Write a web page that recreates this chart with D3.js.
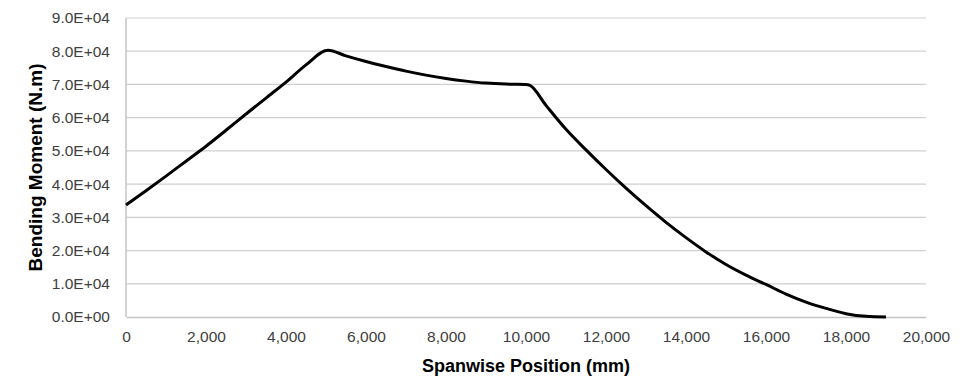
<!DOCTYPE html>
<html>
<head>
<meta charset="utf-8">
<script src="https://cdn.jsdelivr.net/npm/d3@7"></script>
<style>
  body { margin: 0; background: #fff; }
  svg { display: block; font-family: "Liberation Sans", Arial, sans-serif; }
</style>
</head>
<body>
<div id="chart"></div>
<script>
// spanwise position (mm) and bending moment (N.m)
var positions = [0, 500, 1000, 1500, 2000, 2500, 3000, 3500, 4000, 4500, 5050,
	5500, 6000, 6500, 7000, 7500, 8000, 8500, 9000, 9500, 10000, 10100,
	10500, 11000, 11500, 12000, 12500, 13000, 13500, 14000, 14500, 15000,
	15500, 16000, 16500, 17000, 17500, 18000, 18500, 19000];
var moments = [33700, 38000, 42400, 46900, 51400, 56200, 61100, 65900, 70700, 75900, 80300,
	78600, 76900, 75400, 74000, 72800, 71800, 71000, 70400, 70100, 70000, 69700,
	63700, 56500, 50300, 44400, 38800, 33500, 28500, 23900, 19600, 15800,
	12600, 9800, 6900, 4500, 2600, 1000, 200, 0];

var xTicks = [0, 2000, 4000, 6000, 8000, 10000, 12000, 14000, 16000, 18000, 20000];
var yTicks = [0, 10000, 20000, 30000, 40000, 50000, 60000, 70000, 80000, 90000];

var width = 976, height = 377;
var margin = {top: 18, right: 50, bottom: 60, left: 126};

var svg = d3.select("#chart").append("svg")
	.attr("width", width)
	.attr("height", height);

var x = d3.scaleLinear().domain([0, 20000]).range([margin.left, width - margin.right]);
var y = d3.scaleLinear().domain([0, 90000]).range([height - margin.bottom, margin.top]);

// horizontal gridlines
svg.append("g")
	.selectAll("line")
	.data(yTicks.slice(1))
	.enter().append("line")
	.attr("x1", x(0))
	.attr("x2", x(20000))
	.attr("y1", function(d) { return y(d); })
	.attr("y2", function(d) { return y(d); })
	.attr("stroke", "#cfcfcf")
	.attr("stroke-width", 1.2);

// y axis
var yAxis = svg.append("g")
	.attr("transform", "translate(" + x(0) + ",0)")
	.call(d3.axisLeft(y).tickValues(yTicks).tickSize(0).tickPadding(16)
		.tickFormat(function(d) {
			var e = d === 0 ? 0 : Math.floor(Math.log10(d));
			var m = d / Math.pow(10, e);
			return m.toFixed(1) + "E+" + (e < 10 ? "0" + e : e);
		}));

// x axis
var xAxis = svg.append("g")
	.attr("transform", "translate(0," + y(0) + ")")
	.call(d3.axisBottom(x).tickValues(xTicks).tickSize(0).tickPadding(14)
		.tickFormat(d3.format(",")));

[yAxis, xAxis].forEach(function(a) {
	a.select(".domain").attr("stroke", "#c4c4c4").attr("stroke-width", 1.5);
	a.selectAll("text").attr("fill", "#404040").style("font-size", "15.5px");
});
yAxis.select(".domain").attr("d", "M0," + y(90000) + "V" + y(0));

// the moment curve
var line = d3.line()
	.x(function(d, i) { return x(positions[i]); })
	.y(function(d) { return y(d); })
	.curve(d3.curveMonotoneX);

svg.append("path")
	.datum(moments)
	.attr("d", line)
	.attr("fill", "none")
	.attr("stroke", "#000")
	.attr("stroke-width", 3)
	.attr("stroke-linejoin", "round");

// axis titles
svg.append("text")
	.attr("x", (x(0) + x(20000)) / 2)
	.attr("y", 372)
	.attr("text-anchor", "middle")
	.style("font-weight", "bold")
	.style("font-size", "18px")
	.text("Spanwise Position (mm)");

svg.append("text")
	.attr("transform", "translate(42," + (y(0) + y(90000)) / 2 + ") rotate(-90)")
	.attr("text-anchor", "middle")
	.style("font-weight", "bold")
	.style("font-size", "19px")
	.text("Bending Moment (N.m)");
</script>
</body>
</html>
